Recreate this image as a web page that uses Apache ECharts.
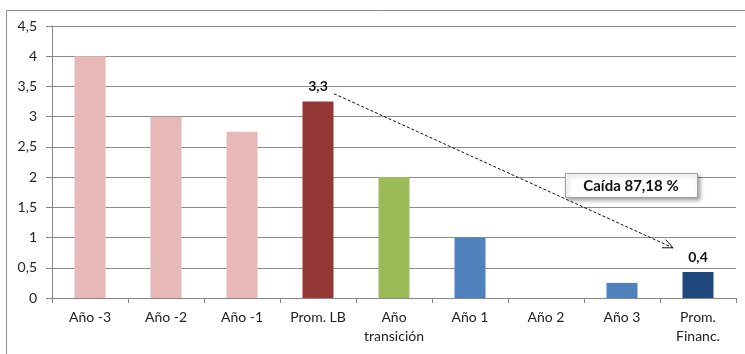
<!DOCTYPE html>
<html><head><meta charset="utf-8">
<script src="https://cdn.jsdelivr.net/npm/echarts@6/dist/echarts.min.js"></script>
<style>html,body{margin:0;padding:0;background:#fff}#c{width:745px;height:354px}</style>
</head><body><div id="c"></div>
<script>
const categories = ['Año -3','Año -2','Año -1','Prom. LB','Año\ntransición','Año 1','Año 2','Año 3','Prom.\nFinanc.'];
const values = [4.0, 3.0, 2.75, 3.25, 2.0, 1.0, 0, 0.25, 0.43];
const barColors = ['#E6B9B8','#E6B9B8','#E6B9B8','#953735','#9BBB59','#4F81BD','#4F81BD','#4F81BD','#1F497D'];
const valueLabels = {3: '3,3', 8: '0,4'};
const yTicks = [0,0.5,1,1.5,2,2.5,3,3.5,4,4.5];
const annotationText = 'Caída 87,18 %';
const arrowFrom = ['Prom. LB', 3.38];
const arrowTo = ['Prom.\nFinanc.', 0.83];

const FONT = 'Lato';
const chart = echarts.init(document.getElementById('c'));
const fmt = v => String(v).replace('.', ',');

chart.setOption({
  animation: false,
  grid: {left: 52, right: 9, top: 26, bottom: 56},
  xAxis: {
    type: 'category', data: categories,
    axisLine: {lineStyle: {color: '#868686', width: 1}},
    axisTick: {show: true, length: 5, lineStyle: {color: '#868686'}},
    axisLabel: {color: '#222', fontFamily: FONT, fontSize: 14, margin: 10, lineHeight: 19, interval: 0}
  },
  yAxis: {
    type: 'value', min: 0, max: 4.5, interval: 0.5,
    axisLine: {show: true, lineStyle: {color: '#868686'}},
    axisTick: {show: true, length: 6, lineStyle: {color: '#868686'}},
    splitLine: {lineStyle: {color: '#8c8c8c', width: 1}},
    axisLabel: {color: '#222', fontFamily: FONT, fontSize: 14, margin: 15, formatter: v => fmt(v)}
  },
  series: [{
    type: 'bar', barWidth: 31,
    data: values.map((v, i) => ({
      value: v,
      itemStyle: {color: barColors[i]},
      label: valueLabels[i] ? {show: true, position: 'top', distance: 8,
        formatter: valueLabels[i], fontFamily: FONT, fontWeight: 'bold', fontSize: 14, color: '#111'} : {show: false}
    }))
  }]
});

function drawAnnotations() {
  const p1 = chart.convertToPixel({xAxisIndex: 0, yAxisIndex: 0}, arrowFrom);
  const p2 = chart.convertToPixel({xAxisIndex: 0, yAxisIndex: 0}, arrowTo);
  const x1 = p1[0] + 16, y1 = p1[1], x2 = p2[0] - 25, y2 = p2[1];
  const ang = Math.atan2(y2 - y1, x2 - x1);
  const L = 11, w = 0.42;
  const ah = [[x2 - L*Math.cos(ang - w), y2 - L*Math.sin(ang - w)], [x2, y2], [x2 - L*Math.cos(ang + w), y2 - L*Math.sin(ang + w)]];
  chart.setOption({
    graphic: [
      {type: 'rect', shape: {x: 6.5, y: 10.5, width: 760, height: 360}, style: {fill: 'none', stroke: '#8c8c8c', lineWidth: 1}, z: -10, silent: true},
      {type: 'line', shape: {x1, y1, x2, y2}, style: {stroke: '#111', lineWidth: 1, lineDash: [3, 2]}, z: 50},
      {type: 'polyline', shape: {points: ah}, style: {stroke: '#111', lineWidth: 1, fill: 'none'}, z: 50},
      {type: 'rect', shape: {x: 565.5, y: 173.5, width: 132, height: 24}, style: {fill: '#fff', stroke: '#a0a0a0', lineWidth: 1, shadowBlur: 4, shadowOffsetX: 2, shadowOffsetY: 2, shadowColor: 'rgba(0,0,0,0.35)'}, z: 60},
      {type: 'text', x: 631, y: 186, style: {text: annotationText, font: 'bold 15px ' + FONT, fill: '#111', align: 'center', verticalAlign: 'middle'}, z: 61}
    ]
  });
}
drawAnnotations();
</script></body></html>
